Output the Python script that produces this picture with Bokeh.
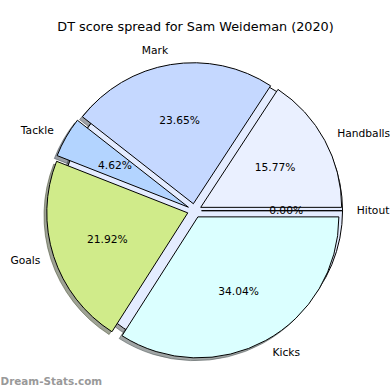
import numpy as np
from bokeh.plotting import figure
from bokeh.models import Range1d, Label, ColumnDataSource
from bokeh.embed import file_html
from bokeh.resources import INLINE
from bokeh.core.properties import value

# ---------------- data ----------------
chart_title = "DT score spread for Sam Weideman (2020)"
categories = ["Hitout", "Handballs", "Mark", "Tackle", "Goals", "Kicks"]
shares = [0.00, 15.77, 23.65, 4.62, 21.92, 34.04]
colors = ["#e4ecff", "#eaf0ff", "#c5d8ff", "#b3d4ff", "#d0eb8a", "#dbffff"]
watermark = "Dream-Stats.com"

# ---------------- layout ----------------
W, H = 390, 390
CX, CY, R = 194.0, 210.2, 141.0   # pie centre / radius in picture pixels
EXPLODE = 0.05
SHADOW = 0.02
FONT = "DejaVu Sans"

def dx(xp):
    return (xp - CX) / R

def dy(yp):
    return (CY - yp) / R

p = figure(width=W, height=H, output_backend="svg", toolbar_location=None,
           x_range=Range1d(dx(0), dx(W)), y_range=Range1d(dy(H), dy(0)),
           min_border=0, outline_line_color=None)
p.axis.visible = False
p.grid.visible = False
p.background_fill_color = "white"
p.border_fill_color = "white"

vals = np.array(shares, dtype=float)
frac = vals / vals.sum()
ends = np.cumsum(frac) * 2 * np.pi
starts = ends - frac * 2 * np.pi
mids = (starts + ends) / 2
ox = EXPLODE * np.cos(mids)
oy = EXPLODE * np.sin(mids)

def shade(c):
    c = c.lstrip("#")
    rgb = [int(c[i:i + 2], 16) for i in (0, 2, 4)]
    return "#%02x%02x%02x" % tuple(int(round(0.3 * v)) for v in rgb)

shadow_src = ColumnDataSource(dict(x=ox - SHADOW, y=oy - SHADOW, start=starts, end=ends,
                                   color=[shade(c) for c in colors]))
p.wedge(x="x", y="y", radius=1.0, start_angle="start", end_angle="end", source=shadow_src,
        fill_color="color", line_color="color", fill_alpha=0.5, line_alpha=0.5, line_width=1)

src = ColumnDataSource(dict(x=ox, y=oy, start=starts, end=ends, color=colors))
p.wedge(x="x", y="y", radius=1.0, start_angle="start", end_angle="end", source=src,
        fill_color="color", line_color="black", line_width=1)

# category labels at 1.1 r
lx = ox + 1.1 * np.cos(mids)
ly = oy + 1.1 * np.sin(mids)
right_side = lx > 0
for mask, align in ((right_side, "left"), (~right_side, "right")):
    s = ColumnDataSource(dict(x=lx[mask], y=ly[mask], t=[c for c, m in zip(categories, mask) if m]))
    p.text(x="x", y="y", text="t", source=s, text_align=align, text_baseline="middle",
           text_font=value(FONT), text_font_size="10.7px", text_color="black")

# percentage labels at 0.6 r
px_ = ox + 0.6 * np.cos(mids)
py_ = oy + 0.6 * np.sin(mids)
pct_src = ColumnDataSource(dict(x=px_, y=py_, t=["%.2f%%" % (100 * f) for f in frac]))
p.text(x="x", y="y", text="t", source=pct_src, text_align="center", text_baseline="middle",
       text_font=value(FONT), text_font_size="10.7px", text_color="black")

p.add_layout(Label(x=dx(195), y=dy(25.5), text=chart_title, text_align="center",
                   text_baseline="middle", text_font=FONT, text_font_size="12.8px",
                   text_color="black"))
p.add_layout(Label(x=0, y=H - 380, x_units="screen", y_units="screen", text=watermark,
                   text_align="left", text_baseline="middle", text_font=FONT,
                   text_font_style="bold", text_font_size="10.4px", text_color="#999999"))

open("out.html", "w").write(file_html(p, INLINE))
